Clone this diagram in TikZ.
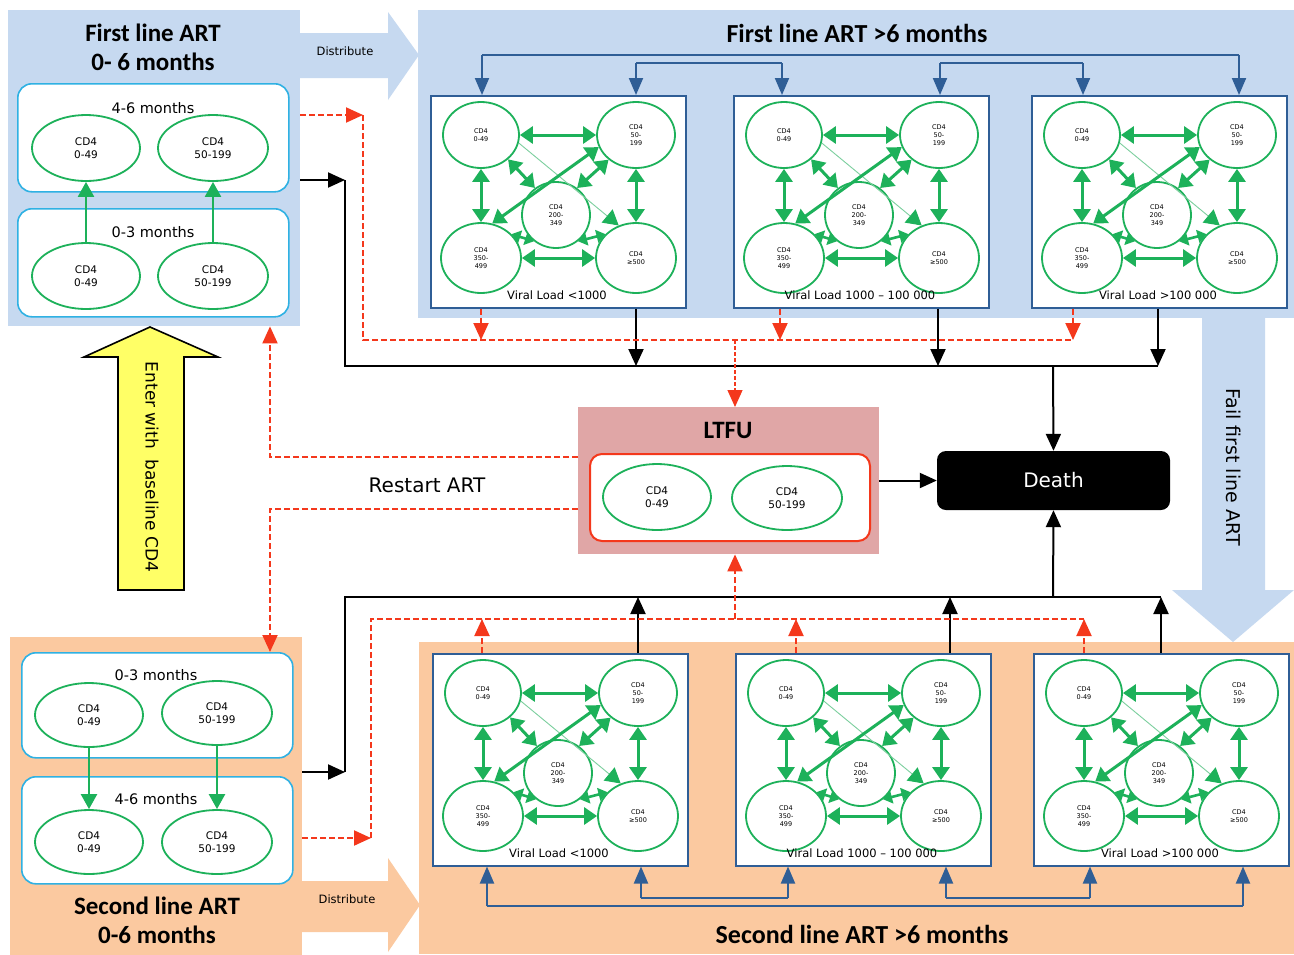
\documentclass[tikz,border=0pt]{standalone}
\usepackage{fontspec}
\setmainfont{DejaVu Sans}
\newfontfamily\titlefont{Carlito}
\usetikzlibrary{shapes.geometric,arrows.meta,calc}
\definecolor{lblue}{HTML}{C6D9F0}
\definecolor{peach}{HTML}{FBC9A0}
\definecolor{ltfu}{HTML}{E0A6A6}
\definecolor{cyanb}{HTML}{2FB1E3}
\definecolor{grn}{HTML}{1DB15A}
\definecolor{lgrn}{HTML}{7CCF9E}
\definecolor{dblue}{HTML}{2F5E96}
\definecolor{redd}{HTML}{F4381C}
\definecolor{yel}{HTML}{FFFF66}
\newcommand\fsz[2]{\fontsize{#1}{#2}\selectfont}
\tikzset{
  bigbox/.style={draw=none, inner sep=0pt, anchor=north west},
  rbox/.style={draw=cyanb, line width=1.6pt, rounded corners=14pt, fill=white, inner sep=0pt, anchor=north west, minimum width=271pt},
  cell/.style={ellipse, draw=grn, line width=1.8pt, fill=white, inner sep=0pt, align=center, font=\fsz{10.5}{12.5}},
  pcell/.style={ellipse, draw=grn, line width=1.8pt, fill=white, inner sep=0pt, align=center, font=\fsz{6.5}{8}},
  panel/.style={draw=dblue, line width=1.5pt, fill=white, anchor=north west, minimum width=255pt, minimum height=212pt, inner sep=0pt},
  garr/.style={draw=grn, line width=3pt, {Triangle[length=13pt,width=17pt]}-{Triangle[length=13pt,width=17pt]}},
  garrs/.style={draw=grn, line width=2.6pt, {Triangle[length=9pt,width=13pt]}-{Triangle[length=9pt,width=13pt]}},
  gup/.style={draw=grn, line width=2.4pt, -{Triangle[length=15pt,width=16pt]}},
  blk/.style={draw=black, line width=2pt},
  blkarr/.style={blk, -{Triangle[length=17pt,width=15pt]}},
  rdash/.style={draw=redd, line width=2pt, dash pattern=on 6pt off 3pt},
  rarr/.style={rdash, -{Triangle[length=17pt,width=15pt]}},
  rthin/.style={draw=redd, line width=1.2pt, dash pattern=on 4pt off 2pt, -{Triangle[length=17pt,width=15pt]}},
  bline/.style={draw=dblue, line width=2pt},
  barr/.style={bline, -{Triangle[length=17pt,width=14pt]}},
  ttl/.style={font=\titlefont\bfseries\fsz{25}{29}, align=center, inner sep=0pt},
  ttlw/.style={font=\titlefont\bfseries\fsz{26}{30}, align=center, inner sep=0pt},
  mtext/.style={font=\fsz{14.5}{17}, inner sep=0pt},
  vlab/.style={font=\fsz{11.5}{13}, inner sep=0pt},
  dtext/.style={font=\fsz{11.5}{13}, inner sep=0pt}
}
\newcommand\vlpanel[4]{%
\begin{scope}[shift={(#1,#2)}]
\node[panel] (#4P) at (0,0) {};
\node[pcell, minimum width=76pt, minimum height=66pt] (#4A) at (51,40) {CD4\\0-49};
\node[pcell, minimum width=78pt, minimum height=66pt] (#4B) at (206,40) {CD4\\50-\\199};
\node[pcell, minimum width=68pt, minimum height=66pt] (#4C) at (126,120) {CD4\\200-\\349};
\node[pcell, minimum width=80pt, minimum height=70pt] (#4D) at (51,163) {CD4\\350-\\499};
\node[pcell, minimum width=80pt, minimum height=70pt] (#4E) at (206,163) {CD4\\≥500};
\draw[draw=lgrn, line width=0.9pt, -{Triangle[length=15pt,width=17pt,color=grn]}] (#4A.-12) -- (#4E.118);
\draw[garr] (#4A.east) -- (#4B.west);
\draw[garr] (#4A.south) -- (#4D.north);
\draw[garr] (#4B.south) -- (#4E.north);
\draw[garr] (#4D.east) -- (#4E.west);
\draw[garr] (#4A.-42) -- (#4C.128);
\draw[garr] (#4B.-138) -- (#4C.52);
\draw[garrs] (#4D.38) -- (#4C.-130);
\draw[garrs] (#4E.142) -- (#4C.-50);
\draw[garr] (#4D.72) -- (#4B.198);
\node[vlab] (#4L) at (127,200) {#3};
\end{scope}}
\begin{document}
\begin{tikzpicture}[x=1pt,y=-1pt]
\useasboundingbox[fill=white] (0,0) rectangle (1294,954);
% ---------- backgrounds
\node[bigbox, fill=lblue, minimum width=292pt, minimum height=316pt] (FL) at (8,10) {};
\node[bigbox, fill=lblue, minimum width=876pt, minimum height=308pt] (FR) at (418,10) {};
\fill[lblue] (1202,316) -- (1202,590) -- (1172,590) -- (1233,642) -- (1294,590) -- (1265,590) -- (1265,316) -- cycle;
\fill[lblue] (299,33) -- (388,33) -- (388,12) -- (419,55) -- (388,100) -- (388,78) -- (299,78) -- cycle;
\node[bigbox, fill=peach, minimum width=292pt, minimum height=318pt] (SL) at (10,637) {};
\node[bigbox, fill=peach, minimum width=875pt, minimum height=312pt] (SR) at (419,642) {};
\fill[peach] (301,881) -- (388,881) -- (388,858) -- (420,905) -- (388,952) -- (388,932) -- (301,932) -- cycle;
\node[dtext] (dist1) at (345,51) {Distribute};
\node[dtext] (dist2) at (347,899) {Distribute};
% ---------- first line 0-6
\node[ttl] (FLt) at (153,47) {First line ART\\0- 6 months};
\node[rbox, minimum height=108pt] (FL46) at (17,83) {};
\node[mtext] (FL46t) at (153,108) {4-6 months};
\node[cell, minimum width=108pt, minimum height=66pt] (FL46a) at (86,148) {CD4\\0-49};
\node[cell, minimum width=110pt, minimum height=66pt] (FL46b) at (213,148) {CD4\\50-199};
\node[rbox, minimum height=108pt] (FL03) at (17,208) {};
\node[mtext] (FL03t) at (153,232) {0-3 months};
\node[cell, minimum width=108pt, minimum height=66pt] (FL03a) at (86,276) {CD4\\0-49};
\node[cell, minimum width=110pt, minimum height=66pt] (FL03b) at (213,276) {CD4\\50-199};
\draw[gup] (FL03a.north) -- (FL46a.south);
\draw[gup] (FL03b.north) -- (FL46b.south);
% ---------- second line 0-6
\node[rbox, minimum height=105pt] (SL03) at (21,652) {};
\node[mtext] (SL03t) at (156,675) {0-3 months};
\node[cell, minimum width=108pt, minimum height=64pt] (SL03a) at (89,715) {CD4\\0-49};
\node[cell, minimum width=110pt, minimum height=64pt] (SL03b) at (217,713) {CD4\\50-199};
\node[rbox, minimum height=107pt] (SL46) at (21,776) {};
\node[mtext] (SL46t) at (156,799) {4-6 months};
\node[cell, minimum width=108pt, minimum height=64pt] (SL46a) at (89,842) {CD4\\0-49};
\node[cell, minimum width=110pt, minimum height=64pt] (SL46b) at (217,842) {CD4\\50-199};
\draw[gup] (SL03a.south) -- (SL46a.north);
\draw[gup] (SL03b.south) -- (SL46b.north);
\node[ttl] (SLt) at (157,920) {Second line ART\\0-6 months};
% ---------- titles of >6 months
\node[ttlw] (FRt) at (857,33) {First line ART >6 months};
\node[ttlw] (SRt) at (862,934) {Second line ART >6 months};
\node[font=\fsz{19}{22}, rotate=-90, inner sep=0pt] (failt) at (1234,467) {Fail first line ART};
% ---------- panels
\vlpanel{430}{95}{Viral Load <1000}{ta}
\vlpanel{733}{95}{Viral Load 1000 – 100 000}{tb}
\vlpanel{1031}{95}{Viral Load >100 000}{tc}
\vlpanel{432}{653}{Viral Load <1000}{ba}
\vlpanel{735}{653}{Viral Load 1000 – 100 000}{bb}
\vlpanel{1033}{653}{Viral Load >100 000}{bc}
% ---------- yellow entry arrow
\draw[line width=1.6pt, fill=yel] (150,327) -- (218,357) -- (184,357) -- (184,590) -- (118,590) -- (118,357) -- (84,357) -- cycle;
\node[font=\fsz{17}{19}, rotate=-90, inner sep=0pt] (entert) at (152,467) {Enter with~ baseline CD4};
% ---------- LTFU and Death
\node[bigbox, fill=ltfu, minimum width=301pt, minimum height=147pt] (LT) at (578,407) {};
\node[font=\titlefont\bfseries\fsz{25}{28}, inner sep=0pt] (LTt) at (728,430) {LTFU};
\node[bigbox, draw=redd, line width=2pt, rounded corners=12pt, fill=white, minimum width=280pt, minimum height=87pt] (LTi) at (589,453) {};
\node[cell, minimum width=108pt, minimum height=66pt] (LTa) at (657,497) {CD4\\0-49};
\node[cell, minimum width=110pt, minimum height=64pt] (LTb) at (787,498) {CD4\\50-199};
\node[fill=black, rounded corners=9pt, minimum width=233pt, minimum height=59pt, text=white, font=\fsz{20}{24}, inner sep=0pt] (Death) at (1053.5,480.5) {Death};
\node[font=\fsz{20}{23}, inner sep=0pt] (restart) at (427,485) {Restart ART};
% ---------- blue connectors (top)
\coordinate (u1) at (482,55); \coordinate (u6) at (1239,55);
\coordinate (u2) at (636,63); \coordinate (u3) at (782,63);
\coordinate (u4) at (940,63); \coordinate (u5) at (1083,63);
\draw[bline] (u1) -- (u6);
\draw[bline] (u2) -- (u3);
\draw[bline] (u4) -- (u5);
\draw[barr] (u1) -- (u1 |- taP.north);
\draw[barr] (u2) -- (u2 |- taP.north);
\draw[barr] (u3) -- (u3 |- tbP.north);
\draw[barr] (u4) -- (u4 |- tbP.north);
\draw[barr] (u5) -- (u5 |- tcP.north);
\draw[barr] (u6) -- (u6 |- tcP.north);
% ---------- blue connectors (bottom)
\coordinate (w1) at (487,906); \coordinate (w6) at (1243,906);
\coordinate (w2) at (641,898); \coordinate (w3) at (788,898);
\coordinate (w4) at (946,898); \coordinate (w5) at (1090,898);
\draw[bline] (w1) -- (w6);
\draw[bline] (w2) -- (w3);
\draw[bline] (w4) -- (w5);
\draw[barr] (w1) -- (w1 |- baP.south);
\draw[barr] (w2) -- (w2 |- baP.south);
\draw[barr] (w3) -- (w3 |- bbP.south);
\draw[barr] (w4) -- (w4 |- bbP.south);
\draw[barr] (w5) -- (w5 |- bcP.south);
\draw[barr] (w6) -- (w6 |- bcP.south);
% ---------- black connectors (top)
\coordinate (tbL) at (345,180); \coordinate (tbB) at (345,366); \coordinate (tbR) at (1158,366);
\draw[blkarr] (FL.east |- tbL) -- (tbL);
\draw[blk] (tbL) -- (tbB) -- (tbR);
\coordinate (k1) at (636,366); \coordinate (k2) at (938,366); \coordinate (k3) at (1158,366);
\draw[blkarr] (k1 |- taP.south) -- (k1);
\draw[blkarr] (k2 |- tbP.south) -- (k2);
\draw[blkarr] (k3 |- tcP.south) -- (k3);
\coordinate (dj) at (1053,366);
\draw[blkarr] (dj) -- (Death.north);
\draw[blkarr] (LT.east |- Death.west) -- (Death.west);
% ---------- black connectors (bottom)
\coordinate (bbL) at (345,772); \coordinate (bbT) at (345,597); \coordinate (bbR) at (1161,597);
\draw[blkarr] (SL.east |- bbL) -- (bbL);
\draw[blk] (bbL) -- (bbT) -- (bbR);
\coordinate (m1) at (638,597); \coordinate (m2) at (950,597); \coordinate (m3) at (1161,597);
\draw[blkarr] (m1 |- baP.north) -- (m1);
\draw[blkarr] (m2 |- bbP.north) -- (m2);
\draw[blkarr] (m3 |- bcP.north) -- (m3);
\coordinate (dj2) at (1053,597);
\draw[blkarr] (dj2) -- (Death.south);
% ---------- red dashed (top)
\coordinate (r0) at (363,115); \coordinate (rb1) at (363,340); \coordinate (rb2) at (1073,340);
\draw[rarr] (FL.east |- r0) -- (r0);
\draw[rdash] (r0) -- (rb1) -- (rb2);
\coordinate (q1) at (481,340); \coordinate (q2) at (780,340); \coordinate (q3) at (1073,340);
\draw[rarr] (q1 |- taP.south) -- (q1);
\draw[rarr] (q2 |- tbP.south) -- (q2);
\draw[rarr] (q3 |- tcP.south) -- (q3);
\coordinate (lq) at (735,340);
\draw[rthin] (lq) -- (lq |- LT.north);
% ---------- red dashed (bottom)
\coordinate (s0) at (371,838); \coordinate (sb1) at (371,619); \coordinate (sb2) at (1084,619);
\draw[rarr] (SL.east |- s0) -- (s0);
\draw[rdash] (s0) -- (sb1) -- (sb2);
\coordinate (n1) at (482,619); \coordinate (n2) at (796,619); \coordinate (n3) at (1084,619);
\draw[rarr] (n1 |- baP.north) -- (n1);
\draw[rarr] (n2 |- bbP.north) -- (n2);
\draw[rarr] (n3 |- bcP.north) -- (n3);
\coordinate (lq2) at (735,619);
\draw[rarr] (lq2) -- (lq2 |- LT.south);
% ---------- restart ART
\coordinate (rs1) at (270,457); \coordinate (rs2) at (270,509);
\draw[rarr] (LT.west |- rs1) -- (rs1) -- (rs1 |- FL.south);
\draw[rarr] (LT.west |- rs2) -- (rs2) -- (rs2 |- SL03.north);
\end{tikzpicture}
\end{document}
